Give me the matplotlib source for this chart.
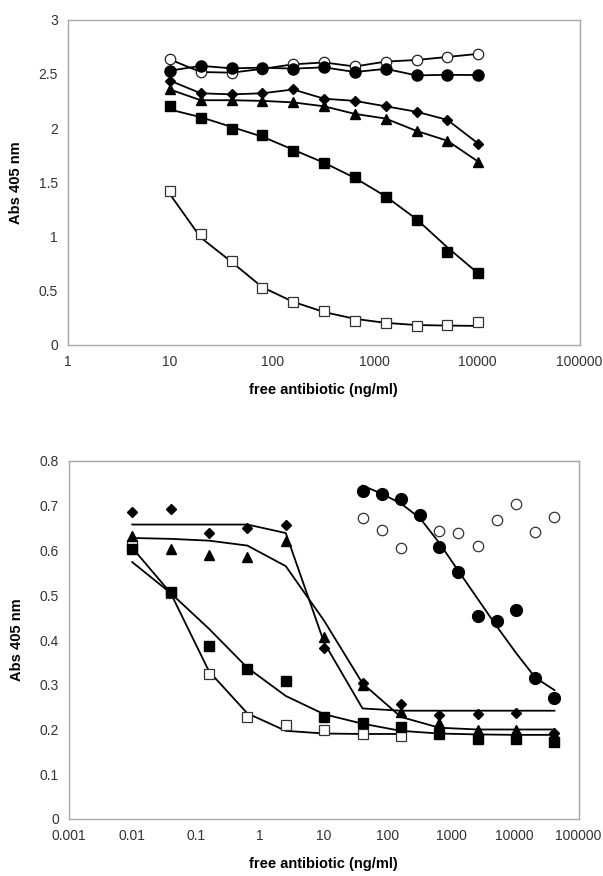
import matplotlib
matplotlib.use("Agg")
import matplotlib.pyplot as plt
from matplotlib.ticker import FixedLocator, FixedFormatter, NullLocator

plt.rcParams['font.family'] = ['Liberation Sans', 'DejaVu Sans']

# ---------------- top panel data ----------------
top_x = [10, 20, 40, 80, 160, 320, 640, 1280, 2560, 5120, 10240]
top_open_circle = [2.632, 2.516, 2.51, 2.545, 2.587, 2.604, 2.567, 2.612, 2.627, 2.655, 2.683]
top_filled_circle = [2.528, 2.573, 2.55, 2.556, 2.547, 2.559, 2.516, 2.545, 2.485, 2.49, 2.488]
top_diamond = [2.437, 2.32, 2.31, 2.32, 2.355, 2.27, 2.25, 2.2, 2.15, 2.075, 1.857]
top_triangle = [2.355, 2.256, 2.256, 2.25, 2.236, 2.2, 2.13, 2.087, 1.973, 1.883, 1.69]
top_filled_square = [2.2, 2.09, 1.99, 1.937, 1.79, 1.677, 1.547, 1.36, 1.153, 0.857, 0.66]
top_open_square = [1.415, 1.022, 0.777, 0.526, 0.398, 0.31, 0.219, 0.199, 0.176, 0.184, 0.21]
# fitted trend lines (values read at the same x)
top_filled_square_fit = [2.17, 2.10, 2.01, 1.92, 1.80, 1.68, 1.54, 1.37, 1.16, 0.90, 0.66]
top_open_square_fit = [1.39, 0.99, 0.766, 0.532, 0.398, 0.304, 0.241, 0.204, 0.184, 0.179, 0.176]

top_xticks = [1, 10, 100, 1000, 10000, 100000]
top_xticklabels = ['1', '10', '100', '1000', '10000', '100000']
top_yticks = [0, 0.5, 1, 1.5, 2, 2.5, 3]
top_yticklabels = ['0', '0.5', '1', '1.5', '2', '2.5', '3']

# ---------------- bottom panel data ----------------
bot_x = [0.01, 0.04, 0.16, 0.64, 2.56, 10.24, 40.96, 163.84, 655.36, 2621.44, 10485.76, 41943.04]
bot_diamond = [0.686, 0.693, 0.638, 0.650, 0.658, 0.382, 0.303, 0.258, 0.232, 0.235, 0.237, 0.192]
bot_triangle = [0.633, 0.603, 0.591, 0.585, 0.622, 0.406, 0.300, 0.240, 0.214, 0.198, 0.198, 0.190]
bot_filled_square = [0.603, 0.507, 0.387, 0.336, 0.309, 0.228, 0.214, 0.205, 0.190, 0.178, 0.178, 0.171]
bot_open_square_x = [0.01, 0.04, 0.16, 0.64, 2.56, 10.24, 40.96, 163.84]
bot_open_square = [0.613, 0.506, 0.325, 0.229, 0.210, 0.198, 0.189, 0.185]
bot_circle_x = [40.96, 81.92, 163.84, 327.68, 655.36, 1310.72, 2621.44, 5242.88, 10485.76, 20971.52, 41943.04]
bot_filled_circle = [0.732, 0.727, 0.715, 0.679, 0.608, 0.552, 0.454, 0.442, 0.466, 0.316, 0.271]
bot_open_circle = [0.673, 0.646, 0.605, 0.680, 0.644, 0.640, 0.609, 0.668, 0.704, 0.641, 0.675]
# fitted curves (values read at the data x)
bot_diamond_fit = [0.658, 0.658, 0.658, 0.658, 0.639, 0.394, 0.247, 0.242, 0.242, 0.242, 0.242, 0.242]
bot_triangle_fit = [0.628, 0.626, 0.622, 0.611, 0.565, 0.443, 0.303, 0.228, 0.204, 0.200, 0.200, 0.200]
bot_filled_square_fit = [0.574, 0.505, 0.425, 0.338, 0.275, 0.234, 0.213, 0.197, 0.191, 0.189, 0.188, 0.188]
bot_open_square_fit = [0.606, 0.505, 0.330, 0.236, 0.197, 0.191, 0.190, 0.190]
bot_filled_circle_fit = [0.745, 0.727, 0.705, 0.672, 0.617, 0.554, 0.492, 0.430, 0.371, 0.316, 0.288]

bot_xticks = [0.001, 0.01, 0.1, 1, 10, 100, 1000, 10000, 100000]
bot_xticklabels = ['0.001', '0.01', '0.1', '1', '10', '100', '1000', '10000', '100000']
bot_yticks = [0, 0.1, 0.2, 0.3, 0.4, 0.5, 0.6, 0.7, 0.8]
bot_yticklabels = ['0', '0.1', '0.2', '0.3', '0.4', '0.5', '0.6', '0.7', '0.8']

xlabel = 'free antibiotic (ng/ml)'
ylabel = 'Abs 405 nm'

W, H = 603, 876
fig = plt.figure(figsize=(W / 100, H / 100), dpi=100)

def frame(l, r, t, b):
    return [l / W, 1 - b / H, (r - l) / W, (b - t) / H]

ax1 = fig.add_axes(frame(67.5, 579.5, 19.5, 345))
ax2 = fig.add_axes(frame(68.5, 578.5, 461, 819))

LW = 1.3
spine_col = '#a8a8a8'
tick_col = '#333333'

def style(ax, xticks, xlabels, yticks, ylabels, xlim, ylim):
    ax.set_xscale('log')
    ax.set_xlim(*xlim)
    ax.set_ylim(*ylim)
    ax.xaxis.set_major_locator(FixedLocator(xticks))
    ax.xaxis.set_major_formatter(FixedFormatter(xlabels))
    ax.xaxis.set_minor_locator(NullLocator())
    ax.yaxis.set_major_locator(FixedLocator(yticks))
    ax.yaxis.set_major_formatter(FixedFormatter(ylabels))
    ax.tick_params(length=0, labelsize=10, colors=tick_col, pad=7)
    for s in ax.spines.values():
        s.set_color(spine_col)
        s.set_linewidth(1.0)
    ax.set_xlabel(xlabel, fontsize=10.5, fontweight='bold', labelpad=10)
    ax.set_ylabel(ylabel, fontsize=10.5, fontweight='bold', labelpad=11)

# ---- top panel ----
mk = dict(color='black', linewidth=LW)
ax1.plot(top_x, top_open_circle, marker='o', ms=7.5, mfc='white', mec='#222222', mew=0.9, **mk)
ax1.plot(top_x, top_filled_circle, marker='o', ms=8, mfc='black', mec='black', **mk)
ax1.plot(top_x, top_diamond, marker='D', ms=5.4, mfc='black', mec='black', **mk)
ax1.plot(top_x, top_triangle, marker='^', ms=7.8, mfc='black', mec='black', **mk)
ax1.plot(top_x, top_filled_square_fit, **mk)
ax1.plot(top_x, top_filled_square, linestyle='none', marker='s', ms=7.5, mfc='black', mec='black')
ax1.plot(top_x, top_open_square_fit, **mk)
ax1.plot(top_x, top_open_square, linestyle='none', marker='s', ms=7, mfc='white', mec='#333333', mew=0.9)
style(ax1, top_xticks, top_xticklabels, top_yticks, top_yticklabels, (1, 100000), (0, 3))

# ---- bottom panel ----
ax2.plot(bot_x, bot_diamond_fit, **mk)
ax2.plot(bot_x, bot_triangle_fit, **mk)
ax2.plot(bot_x, bot_filled_square_fit, **mk)
ax2.plot(bot_open_square_x, bot_open_square_fit, **mk)
ax2.plot(bot_circle_x, bot_filled_circle_fit, **mk)
ax2.plot(bot_circle_x, bot_open_circle, linestyle='none', marker='o', ms=7.5, mfc='white', mec='#333333', mew=0.9)
ax2.plot(bot_open_square_x, bot_open_square, linestyle='none', marker='s', ms=7, mfc='white', mec='#333333', mew=0.9)
ax2.plot(bot_x, bot_filled_square, linestyle='none', marker='s', ms=7.5, mfc='black', mec='black')
ax2.plot(bot_x, bot_triangle, linestyle='none', marker='^', ms=7.8, mfc='black', mec='black')
ax2.plot(bot_x, bot_diamond, linestyle='none', marker='D', ms=5.4, mfc='black', mec='black')
ax2.plot(bot_circle_x, bot_filled_circle, linestyle='none', marker='o', ms=8.5, mfc='black', mec='black')
style(ax2, bot_xticks, bot_xticklabels, bot_yticks, bot_yticklabels, (0.001, 100000), (0, 0.8))

fig.savefig('out.png', dpi=100, facecolor='white')
